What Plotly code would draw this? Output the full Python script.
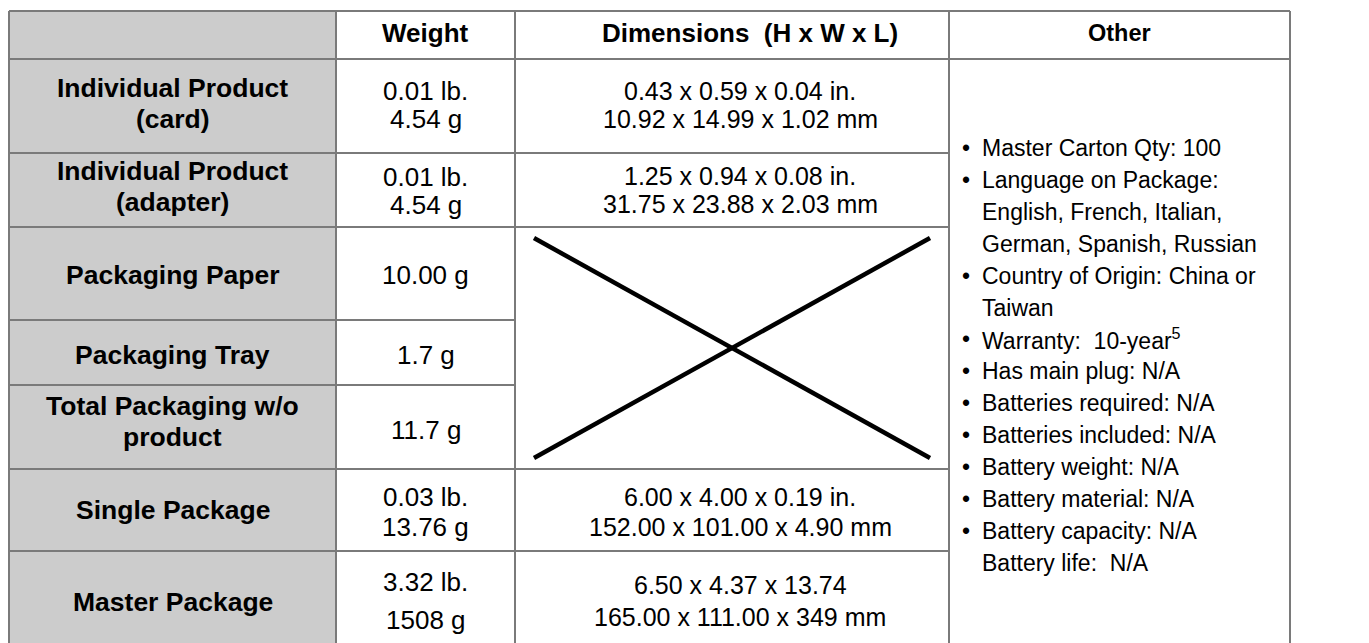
import plotly.graph_objects as go

# ---------------- data ----------------
header_labels = ["", "Weight", "Dimensions\u00a0 (H x W x L)", "Other"]
row_labels = [
    ["Individual Product", "(card)"],
    ["Individual Product", "(adapter)"],
    ["Packaging Paper"],
    ["Packaging Tray"],
    ["Total Packaging w/o", "product"],
    ["Single Package"],
    ["Master Package"],
]
weight_values = [
    ["0.01 lb.", "4.54 g"],
    ["0.01 lb.", "4.54 g"],
    ["10.00 g"],
    ["1.7 g"],
    ["11.7 g"],
    ["0.03 lb.", "13.76 g"],
    ["3.32 lb.", "1508 g"],
]
dimension_values = [
    ["0.43 x 0.59 x 0.04 in.", "10.92 x 14.99 x 1.02 mm"],
    ["1.25 x 0.94 x 0.08 in.", "31.75 x 23.88 x 2.03 mm"],
    None,
    None,
    None,
    ["6.00 x 4.00 x 0.19 in.", "152.00 x 101.00 x 4.90 mm"],
    ["6.50 x 4.37 x 13.74", "165.00 x 111.00 x 349 mm"],
]
other_bullets = [True, True, False, False, True, False, True, True, True, True, True, True, True, False]
other_texts = [
    "Master Carton Qty: 100",
    "Language on Package:",
    "English, French, Italian,",
    "German, Spanish, Russian",
    "Country of Origin: China or",
    "Taiwan",
    "Warranty:\u00a0 10-year<sup>5</sup>",
    "Has main plug: N/A",
    "Batteries required: N/A",
    "Batteries included: N/A",
    "Battery weight: N/A",
    "Battery material: N/A",
    "Battery capacity: N/A",
    "Battery life:\u00a0 N/A",
]

# ---------------- layout geometry (pixels) ----------------
W, H = 1369, 643
col_edges = [9, 336, 515, 949, 1290]
row_edges = [11, 59, 153, 227, 320, 385, 469, 551, 653]
crossed_rows = [2, 3, 4]          # merged, crossed-out dimension cell
label_cy = [103, 186, 275, 355, 421, 510, 602]
weight_cy = [105, 191, 275, 355, 430, 512, 601]
weight_gap = [28, 28, 0, 0, 0, 30, 38]
dim_cy = [105, 190, None, None, None, 512, 601]
dim_gap = [28, 28, 0, 0, 0, 30, 32]
label_gap = 31
header_cy = 33
other_y0, other_step = 148, 31.9
other_bullet_x, other_text_x = 966, 980

FONT = "Liberation Sans, Arial, sans-serif"
FS_LABEL = 26.5
FS_HEAD = 26
FS_WEIGHT = 26
FS_DIM = 25
FS_OTHER = 23
GRID = "#7a7a7a"
FILL = "#CCCCCC"

fig = go.Figure()
fig.add_trace(go.Scatter(x=[None], y=[None], showlegend=False, hoverinfo="skip"))

shapes = []
x0, x1, x2, x3, x4 = col_edges
top, bottom = row_edges[0], row_edges[-1]
# gray first column
shapes.append(dict(type="rect", x0=x0, x1=x1, y0=top, y1=bottom, fillcolor=FILL,
                   line=dict(width=0), layer="below"))


def hline(y, xa, xb):
    shapes.append(dict(type="line", x0=xa, x1=xb, y0=y, y1=y, line=dict(color=GRID, width=2)))


def vline(x, ya, yb):
    shapes.append(dict(type="line", x0=x, x1=x, y0=ya, y1=yb, line=dict(color=GRID, width=2)))


# outer border and column lines
hline(top, x0, x4)
hline(bottom, x0, x4)
for xe in col_edges:
    vline(xe, top, bottom)
# header bottom
hline(row_edges[1], x0, x4)
# row borders: interior borders of the crossed (merged) block stop at the weight column
for i in range(7):
    y = row_edges[i + 2]
    if i in crossed_rows[:-1]:
        hline(y, x0, x2)
    else:
        hline(y, x0, x3)

# cross in merged dimension cell
cy0 = row_edges[crossed_rows[0] + 1]
cy1 = row_edges[crossed_rows[-1] + 2]
pad_x, pad_y = 19, 11
shapes.append(dict(type="line", x0=x2 + pad_x, y0=cy0 + pad_y, x1=x3 - pad_x, y1=cy1 - pad_y,
                   line=dict(color="black", width=4.5)))
shapes.append(dict(type="line", x0=x2 + pad_x, y0=cy1 - pad_y, x1=x3 - pad_x, y1=cy0 + pad_y,
                   line=dict(color="black", width=4.5)))

ann = []


def txt(x, y, s, size, bold=False, anchor="center"):
    if bold:
        s = "<b>" + s + "</b>"
    ann.append(dict(x=x, y=y, text=s, showarrow=False, xanchor=anchor, yanchor="middle",
                    font=dict(family=FONT, size=size, color="black"), xref="x", yref="y"))


col_centers = [(col_edges[i] + col_edges[i + 1]) / 2 for i in range(4)]
dim_cx = col_centers[2] + 8

# header
txt(col_centers[1], header_cy, header_labels[1], FS_HEAD, bold=True)
txt(col_centers[2] + 18, header_cy, header_labels[2], FS_HEAD, bold=True)
txt(col_centers[3], header_cy, header_labels[3], FS_HEAD - 2.5, bold=True)


def lines(x, cy, items, gap, size, bold=False):
    n = len(items)
    for k, s in enumerate(items):
        txt(x, cy + (k - (n - 1) / 2) * gap, s, size, bold=bold)


for r in range(7):
    lines(col_centers[0], label_cy[r], row_labels[r], label_gap, FS_LABEL, bold=True)
    lines(col_centers[1], weight_cy[r], weight_values[r], weight_gap[r], FS_WEIGHT)
    if dimension_values[r] is not None:
        lines(dim_cx, dim_cy[r], dimension_values[r], dim_gap[r], FS_DIM)

for k, (b, s) in enumerate(zip(other_bullets, other_texts)):
    y = other_y0 + k * other_step
    if b:
        txt(other_bullet_x, y, "\u2022", FS_OTHER)
    txt(other_text_x, y, s, FS_OTHER, anchor="left")

fig.update_layout(
    width=W, height=H,
    margin=dict(l=0, r=0, t=0, b=0, pad=0),
    paper_bgcolor="white", plot_bgcolor="white",
    xaxis=dict(range=[0, W], visible=False, fixedrange=True),
    yaxis=dict(range=[H, 0], visible=False, fixedrange=True),
    shapes=shapes, annotations=ann, showlegend=False,
)

fig.write_html("out.html", config={"displayModeBar": False},
               post_script="document.body.style.margin='0px';document.body.style.overflow='hidden';")
